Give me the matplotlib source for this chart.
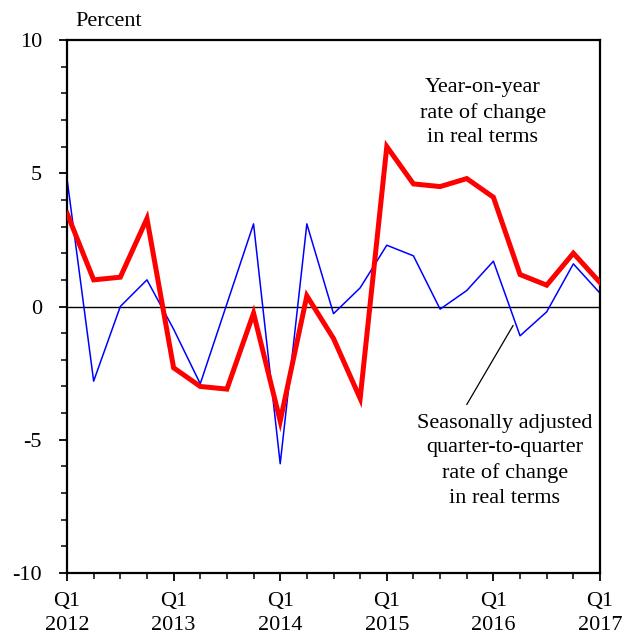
import matplotlib
matplotlib.use("Agg")
import matplotlib.pyplot as plt
from matplotlib.ticker import MultipleLocator, FixedLocator

plt.rcParams['font.family'] = ['Liberation Serif', 'DejaVu Serif']
plt.rcParams['axes.unicode_minus'] = False

quarters = ["Q1 2012", "Q2 2012", "Q3 2012", "Q4 2012",
            "Q1 2013", "Q2 2013", "Q3 2013", "Q4 2013",
            "Q1 2014", "Q2 2014", "Q3 2014", "Q4 2014",
            "Q1 2015", "Q2 2015", "Q3 2015", "Q4 2015",
            "Q1 2016", "Q2 2016", "Q3 2016", "Q4 2016",
            "Q1 2017"]
yoy = [3.5, 1.0, 1.1, 3.3, -2.3, -3.0, -3.1, -0.25, -4.3, 0.4, -1.2, -3.45,
       6.0, 4.6, 4.5, 4.8, 4.1, 1.2, 0.8, 2.0, 0.9]
qoq = [4.8, -2.8, 0.0, 1.0, -0.85, -2.9, 0.1, 3.1, -5.9, 3.1, -0.27, 0.7,
       2.3, 1.9, -0.1, 0.6, 1.7, -1.1, -0.2, 1.6, 0.5]
major_labels = ["Q1\n2012", "Q1\n2013", "Q1\n2014", "Q1\n2015", "Q1\n2016", "Q1\n2017"]

FS = 16

fig = plt.figure(figsize=(6.24, 6.33), dpi=100)
ax = fig.add_axes([67/624, 1-573/633, (600-67)/624, (573-40)/633])

x = list(range(len(quarters)))
ax.axhline(0, color='black', lw=1.0, zorder=1)
ax.plot(x, qoq, color='#0000FF', lw=1.1, zorder=2)
ax.plot(x, yoy, color='#FF0000', lw=3.6, zorder=3, solid_joinstyle='miter')

ax.set_xlim(0, len(quarters) - 1)
ax.set_ylim(-10, 10)
ax.xaxis.set_major_locator(FixedLocator(x[::4]))
ax.set_xticklabels(major_labels)
ax.xaxis.set_minor_locator(MultipleLocator(1))
ax.yaxis.set_major_locator(MultipleLocator(5))
ax.yaxis.set_minor_locator(MultipleLocator(1))
ax.tick_params(axis='both', which='major', direction='out', length=6, width=1.3,
               labelsize=FS, colors='black')
ax.tick_params(axis='both', which='minor', direction='out', length=4, width=1.1)
ax.tick_params(axis='y', which='major', pad=12)
ax.tick_params(axis='x', which='major', pad=8)
for lab in ax.get_xticklabels():
    lab.set_linespacing(1.3)
for s in ax.spines.values():
    s.set_linewidth(1.6)

fig.text(75/624, 1-22/633, "Percent", fontsize=FS, ha='left', va='center')

ax.text(15.6, 7.28, "Year-on-year\nrate of change\nin real terms", fontsize=FS,
        ha='center', va='center', linespacing=1.4)
ax.text(16.43, -5.78, "Seasonally adjusted\nquarter-to-quarter\nrate of change\nin real terms",
        fontsize=FS, ha='center', va='center', linespacing=1.4)
ax.annotate("", xy=(16.74, -0.71), xytext=(15.0, -3.68),
            arrowprops=dict(arrowstyle='-', color='black', lw=0.9,
                            shrinkA=0, shrinkB=0))

fig.savefig("out.png", dpi=100)
